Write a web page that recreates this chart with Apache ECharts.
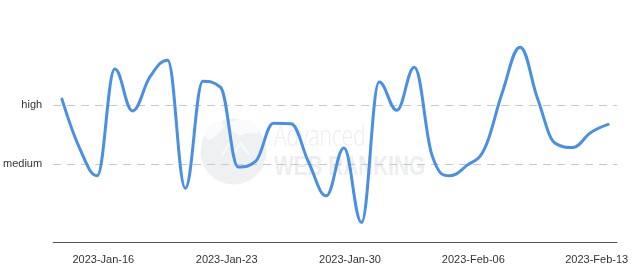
<!DOCTYPE html>
<html>
<head>
<meta charset="utf-8">
<script src="https://cdn.jsdelivr.net/npm/echarts@6/dist/echarts.min.js"></script>
<style>html,body{margin:0;padding:0;background:#fff}#c{width:640px;height:276px}</style>
</head>
<body>
<div id="c"></div>
<script>
var categories = ['2023-Jan-13','2023-Jan-14','2023-Jan-15','2023-Jan-16','2023-Jan-17','2023-Jan-18','2023-Jan-19','2023-Jan-20',
  '2023-Jan-21','2023-Jan-22','2023-Jan-23','2023-Jan-24','2023-Jan-25','2023-Jan-26','2023-Jan-27','2023-Jan-28',
  '2023-Jan-29','2023-Jan-30','2023-Jan-31','2023-Feb-01','2023-Feb-02','2023-Feb-03','2023-Feb-04','2023-Feb-05',
  '2023-Feb-06','2023-Feb-07','2023-Feb-08','2023-Feb-09','2023-Feb-10','2023-Feb-11','2023-Feb-12','2023-Feb-13'];
var values = [2.10, 1.27, 0.80, 2.61, 1.90, 2.48, 2.76, 0.59,
  2.40, 2.30, 0.95, 1.05, 1.69, 1.68, 1.03, 0.46,
  1.27, 0.01, 2.39, 1.91, 2.64, 1.15, 0.80, 0.98,
  1.27, 2.22, 2.98, 2.10, 1.35, 1.28, 1.53, 1.67];
var tickLabels = ['2023-Jan-16','2023-Jan-23','2023-Jan-30','2023-Feb-06','2023-Feb-13'];
var levelValues = [1, 2];
var levelNames = ['medium', 'high'];

// Spline path (control points clamped at local extrema) built from axis coordinates
function splinePath(pts) {
  var s = 1.5, den = s + 1, d = 'M' + pts[0][0] + ' ' + pts[0][1];
  var rc = [];
  for (var i = 0; i < pts.length; i++) {
    var p = pts[i], lp = pts[i - 1], np = pts[i + 1];
    var lcx = p[0], lcy = p[1], rcx = p[0], rcy = p[1];
    if (lp && np) {
      lcx = (s * p[0] + lp[0]) / den; lcy = (s * p[1] + lp[1]) / den;
      rcx = (s * p[0] + np[0]) / den; rcy = (s * p[1] + np[1]) / den;
      var corr = 0;
      if (rcx !== lcx) corr = ((rcy - lcy) * (rcx - p[0])) / (rcx - lcx) + p[1] - rcy;
      lcy += corr; rcy += corr;
      if (lcy > lp[1] && lcy > p[1]) { lcy = Math.max(lp[1], p[1]); rcy = 2 * p[1] - lcy; }
      else if (lcy < lp[1] && lcy < p[1]) { lcy = Math.min(lp[1], p[1]); rcy = 2 * p[1] - lcy; }
      if (rcy > np[1] && rcy > p[1]) { rcy = Math.max(np[1], p[1]); lcy = 2 * p[1] - rcy; }
      else if (rcy < np[1] && rcy < p[1]) { rcy = Math.min(np[1], p[1]); lcy = 2 * p[1] - rcy; }
    }
    rc[i] = [rcx, rcy];
    if (i > 0) {
      d += ' C' + rc[i - 1][0] + ' ' + rc[i - 1][1] + ' ' + lcx + ' ' + lcy + ' ' + p[0] + ' ' + p[1];
    }
  }
  return d;
}

var chart = echarts.init(document.getElementById('c'), null, {renderer: 'canvas'});
var font = 'Liberation Sans, Arial, Helvetica, sans-serif';
chart.setOption({
  animation: false,
  backgroundColor: '#ffffff',
  grid: {left: 53, right: 23, top: 20, bottom: 34},
  graphic: [
    {type: 'circle', z: -10, silent: true, shape: {cx: 233.5, cy: 151.5, r: 33}, style: {fill: '#eff0f2'}},
    {type: 'polygon', z: -9, silent: true, shape: {points: [[207, 128], [214, 122], [222, 121], [224, 127], [219, 133], [213, 138], [208, 140], [205, 135]]}, style: {fill: '#fafbfc'}},
    {type: 'polygon', z: -9, silent: true, shape: {points: [[230, 122], [240, 119], [252, 121], [261, 130], [256, 134], [247, 133], [240, 136], [233, 131]]}, style: {fill: '#fafbfc'}},
    {type: 'polyline', z: -9, silent: true, shape: {points: [[222, 155], [229, 144], [235, 152], [241, 143], [249, 155]]}, style: {stroke: '#fafbfc', lineWidth: 2, fill: 'none'}},
    {type: 'text', z: -10, silent: true, left: 274, top: 123, scaleX: 0.72,
      style: {text: 'Advanced', fill: '#eceef0', font: '300 29px "Open Sans", Lato, sans-serif'}},
    {type: 'text', z: -10, silent: true, left: 274, top: 154, scaleX: 0.77,
      style: {text: 'WEB RANKING', fill: '#eceef0', font: 'bold 27px "Liberation Sans", Arial, sans-serif'}}
  ],
  xAxis: {
    type: 'category',
    data: categories,
    boundaryGap: true,
    axisLine: {onZero: false, lineStyle: {color: '#555', width: 1}},
    axisTick: {show: false},
    axisLabel: {
      interval: function (i, v) { return tickLabels.indexOf(v) >= 0; },
      color: '#333', fontSize: 11, fontFamily: font, margin: 12,
      padding: [0, 23, 0, 0]
    },
    splitLine: {show: false}
  },
  yAxis: {
    type: 'value',
    min: -0.322, max: 3.44,
    axisLine: {show: false},
    axisTick: {show: false, customValues: levelValues},
    axisLabel: {
      customValues: levelValues,
      formatter: function (v) { var k = levelValues.indexOf(v); return k >= 0 ? levelNames[k] : ''; },
      color: '#333', fontSize: 11, fontFamily: font, margin: 11, padding: [2, 0, 0, 0]
    },
    splitLine: {show: true, lineStyle: {color: '#c8c8c8', type: [8, 6], width: 1}}
  },
  series: [{
    type: 'custom',
    data: values.map(function (v, i) { return [i, v]; }),
    encode: {x: 0, y: 1},
    clip: false,
    renderItem: function (params, api) {
      if (params.dataIndex !== 0) return null;
      var pts = values.map(function (v, i) { return api.coord([i, v]); });
      return {
        type: 'path',
        shape: {pathData: splinePath(pts)},
        style: {fill: 'none', stroke: '#4a90e2', lineWidth: 3, lineJoin: 'round', lineCap: 'round'}
      };
    }
  }]
});
</script>
</body>
</html>
